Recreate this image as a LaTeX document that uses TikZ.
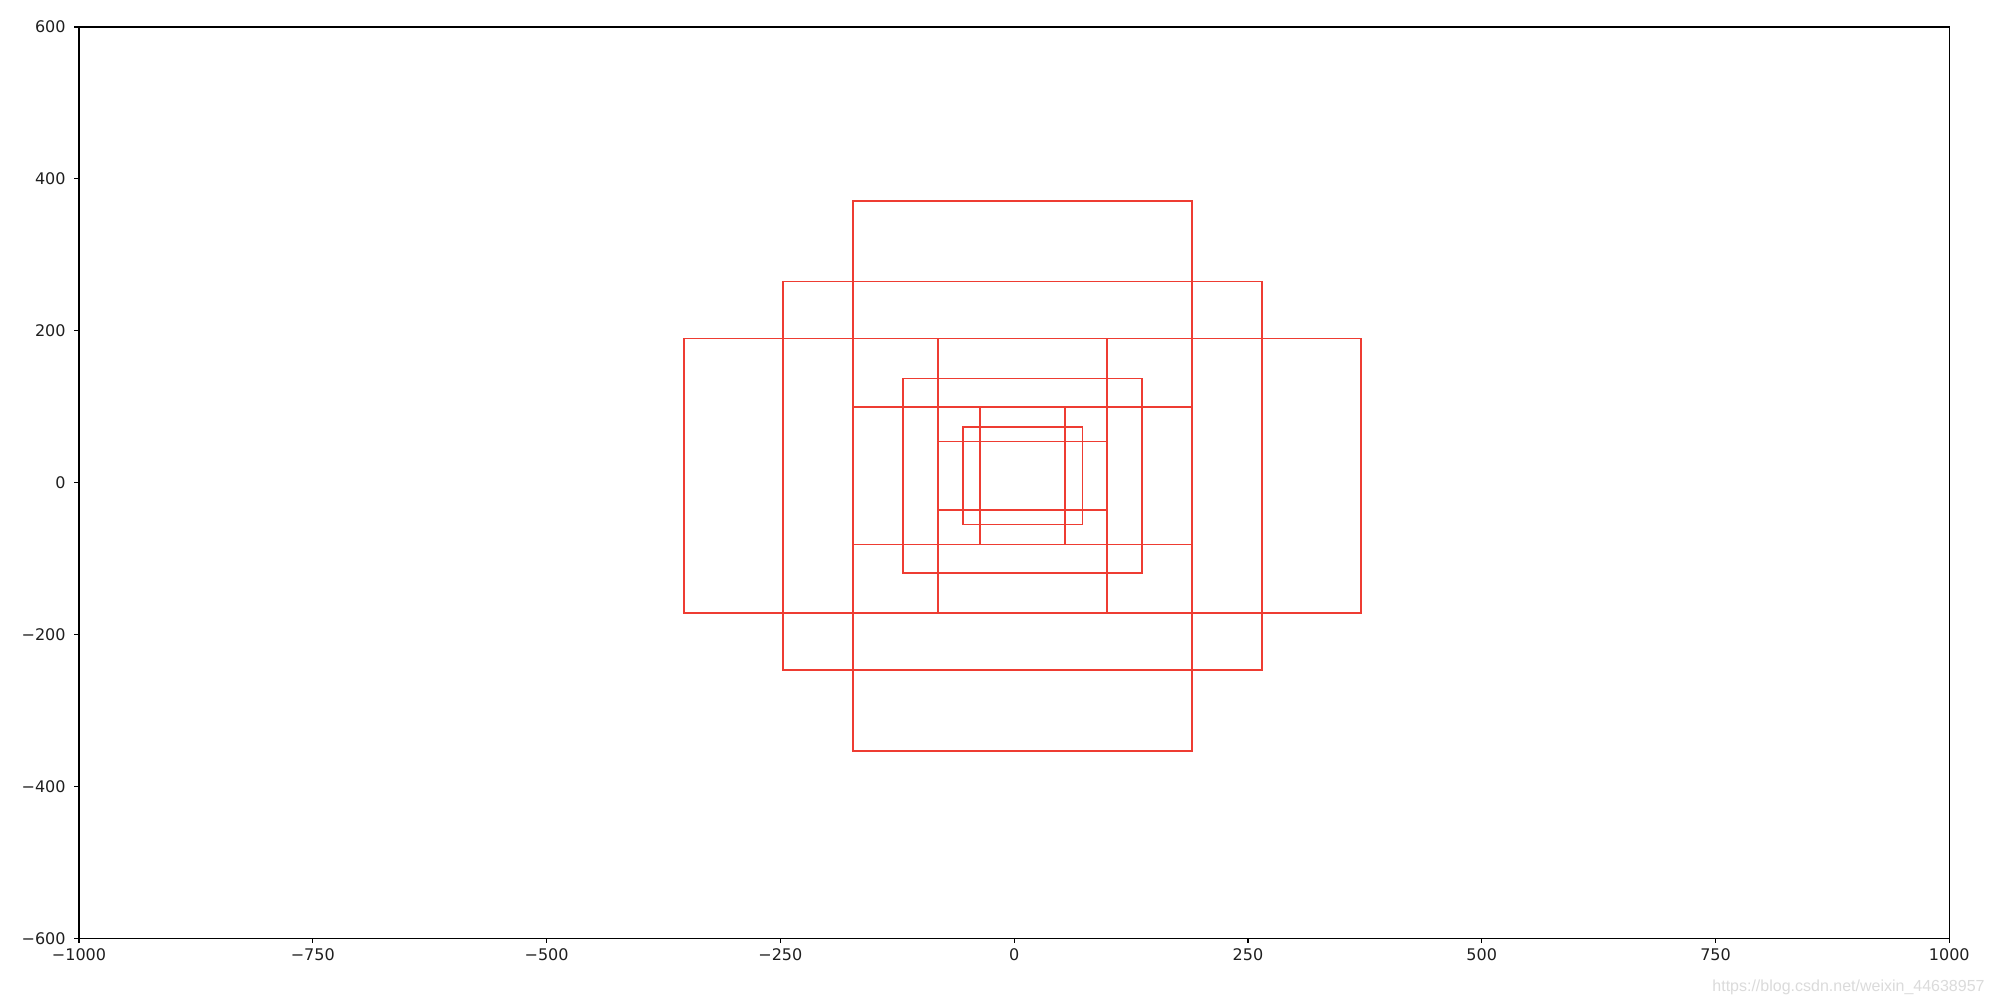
\documentclass[tikz,border=0pt]{standalone}
\usepackage{fontspec}
\setmainfont{DejaVu Sans}
\newfontfamily\wmfont{Liberation Sans}
\definecolor{boxred}{RGB}{238,60,50}
\tikzset{
  anchorbox/.style={draw=boxred, line width=0.8pt},
  axisframe/.style={draw=black, line width=0.6pt},
  ticklabel/.style={font=\fontsize{8}{9.6}\selectfont, text=black!88, inner sep=0pt},
  tickmark/.style={draw=black, line width=0.6pt}
}
\begin{document}
\begin{tikzpicture}[x=0.5pt,y=0.5pt]
\useasboundingbox (0,0) rectangle (1994,1006);
\fill[white] (0,0) rectangle (1994,1006);
% data coordinates
\begin{scope}[shift={(1014.15,523.34)}, xscale=0.93515, yscale=0.7594]
  \foreach \s in {128,256,512}{
    \draw[anchorbox] ({9-\s/2},{9-\s/2}) rectangle ({9+\s/2},{9+\s/2});
    \draw[anchorbox] ({9-\s*0.707107},{9-\s*0.353553}) rectangle ({9+\s*0.707107},{9+\s*0.353553});
    \draw[anchorbox] ({9-\s*0.353553},{9-\s*0.707107}) rectangle ({9+\s*0.353553},{9+\s*0.707107});
  }
  \draw[axisframe] (-1000,-600) rectangle (1000,600);
\end{scope}
% x ticks
\foreach \v/\t in {-1000/{−1000},-750/{−750},-500/{−500},-250/{−250},0/0,250/250,500/500,750/750,1000/1000}{
  \pgfmathsetmacro{\px}{1014.15+\v*0.93515}
  \draw[tickmark] (\px,67.7) -- (\px,62.7);
  \node[ticklabel, anchor=center] (xl\v) at (\px,51) {\t};
}
% y ticks
\foreach \v/\t in {-600/{−600},-400/{−400},-200/{−200},0/0,200/200,400/400,600/600}{
  \pgfmathsetmacro{\py}{523.34+\v*0.7594}
  \draw[tickmark] (79,\py) -- (74,\py);
  \node[ticklabel, anchor=east] (yl\v) at (66,\py) {\t};
}
\node[font=\wmfont\fontsize{8}{9.6}\selectfont, text=black!14, inner sep=0pt] (wm) at (1848.5,19) {https://blog.csdn.net/weixin\_44638957};
\end{tikzpicture}
\end{document}
